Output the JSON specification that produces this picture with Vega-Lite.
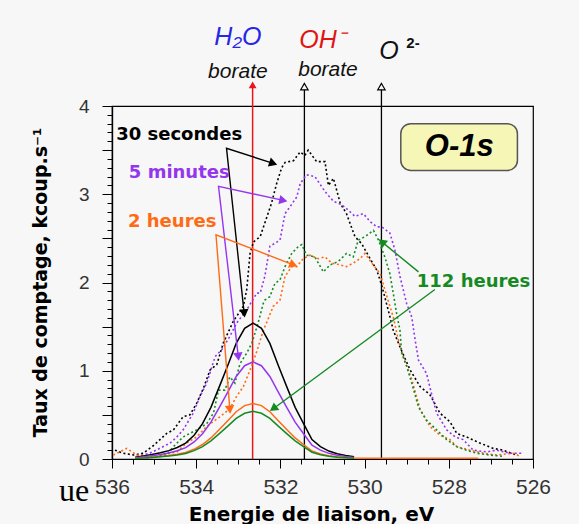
{
  "$schema": "https://vega.github.io/schema/vega-lite/v6.json",
  "width": 421,
  "height": 353,
  "autosize": {"type": "none"},
  "padding": {"left": 112, "top": 106, "right": 46, "bottom": 65},
  "background": "#f7f7f7",
  "config": {
    "view": {"stroke": "#000", "strokeWidth": 1.2},
    "axis": {"grid": false, "domainColor": "#000", "tickColor": "#000", "domainWidth": 1.2, "tickWidth": 1}
  },
  "datasets": {
    "raw": [
      {"series":"30 secondes","eV":535.93,"rate":0.10},{"series":"30 secondes","eV":535.73,"rate":0.065},{"series":"30 secondes","eV":535.49,"rate":0.045},{"series":"30 secondes","eV":535.26,"rate":0.065},{"series":"30 secondes","eV":535.02,"rate":0.15},{"series":"30 secondes","eV":534.86,"rate":0.22},{"series":"30 secondes","eV":534.70,"rate":0.29},{"series":"30 secondes","eV":534.54,"rate":0.33},{"series":"30 secondes","eV":534.31,"rate":0.48},{"series":"30 secondes","eV":534.15,"rate":0.50},{"series":"30 secondes","eV":533.99,"rate":0.63},{"series":"30 secondes","eV":533.83,"rate":0.80},{"series":"30 secondes","eV":533.67,"rate":1.01},{"series":"30 secondes","eV":533.51,"rate":1.07},{"series":"30 secondes","eV":533.36,"rate":1.31},{"series":"30 secondes","eV":533.12,"rate":1.56},{"series":"30 secondes","eV":532.88,"rate":1.73},{"series":"30 secondes","eV":532.80,"rate":1.92},{"series":"30 secondes","eV":532.72,"rate":2.33},{"series":"30 secondes","eV":532.64,"rate":2.46},{"series":"30 secondes","eV":532.48,"rate":2.52},{"series":"30 secondes","eV":532.33,"rate":2.73},{"series":"30 secondes","eV":532.21,"rate":2.90},{"series":"30 secondes","eV":532.09,"rate":3.12},{"series":"30 secondes","eV":531.97,"rate":3.30},{"series":"30 secondes","eV":531.89,"rate":3.36},{"series":"30 secondes","eV":531.69,"rate":3.38},{"series":"30 secondes","eV":531.53,"rate":3.48},{"series":"30 secondes","eV":531.42,"rate":3.44},{"series":"30 secondes","eV":531.34,"rate":3.50},{"series":"30 secondes","eV":531.14,"rate":3.37},{"series":"30 secondes","eV":530.94,"rate":3.37},{"series":"30 secondes","eV":530.86,"rate":3.10},{"series":"30 secondes","eV":530.74,"rate":3.18},{"series":"30 secondes","eV":530.58,"rate":2.90},{"series":"30 secondes","eV":530.43,"rate":2.78},{"series":"30 secondes","eV":530.23,"rate":2.52},{"series":"30 secondes","eV":530.07,"rate":2.44},{"series":"30 secondes","eV":529.87,"rate":2.27},{"series":"30 secondes","eV":529.71,"rate":2.14},{"series":"30 secondes","eV":529.59,"rate":1.96},{"series":"30 secondes","eV":529.44,"rate":1.69},{"series":"30 secondes","eV":529.32,"rate":1.46},{"series":"30 secondes","eV":529.16,"rate":1.27},{"series":"30 secondes","eV":528.92,"rate":1.01},{"series":"30 secondes","eV":528.68,"rate":0.82},{"series":"30 secondes","eV":528.45,"rate":0.73},{"series":"30 secondes","eV":528.21,"rate":0.52},{"series":"30 secondes","eV":527.97,"rate":0.42},{"series":"30 secondes","eV":527.81,"rate":0.29},{"series":"30 secondes","eV":527.58,"rate":0.25},{"series":"30 secondes","eV":527.26,"rate":0.18},{"series":"30 secondes","eV":526.94,"rate":0.12},{"series":"30 secondes","eV":526.71,"rate":0.10},{"series":"30 secondes","eV":526.39,"rate":0.045},
      {"series":"5 minutes","eV":535.41,"rate":0.03},{"series":"5 minutes","eV":535.10,"rate":0.065},{"series":"5 minutes","eV":534.62,"rate":0.18},{"series":"5 minutes","eV":534.46,"rate":0.25},{"series":"5 minutes","eV":534.31,"rate":0.33},{"series":"5 minutes","eV":534.07,"rate":0.52},{"series":"5 minutes","eV":533.91,"rate":0.71},{"series":"5 minutes","eV":533.75,"rate":0.86},{"series":"5 minutes","eV":533.55,"rate":1.16},{"series":"5 minutes","eV":533.39,"rate":1.24},{"series":"5 minutes","eV":533.20,"rate":1.39},{"series":"5 minutes","eV":533.04,"rate":1.54},{"series":"5 minutes","eV":532.80,"rate":1.69},{"series":"5 minutes","eV":532.56,"rate":1.88},{"series":"5 minutes","eV":532.48,"rate":1.88},{"series":"5 minutes","eV":532.37,"rate":2.07},{"series":"5 minutes","eV":532.25,"rate":2.41},{"series":"5 minutes","eV":532.01,"rate":2.48},{"series":"5 minutes","eV":531.89,"rate":2.78},{"series":"5 minutes","eV":531.77,"rate":2.86},{"series":"5 minutes","eV":531.61,"rate":2.97},{"series":"5 minutes","eV":531.53,"rate":3.12},{"series":"5 minutes","eV":531.38,"rate":3.22},{"series":"5 minutes","eV":531.18,"rate":3.20},{"series":"5 minutes","eV":530.94,"rate":3.03},{"series":"5 minutes","eV":530.74,"rate":2.92},{"series":"5 minutes","eV":530.54,"rate":2.88},{"series":"5 minutes","eV":530.39,"rate":2.82},{"series":"5 minutes","eV":530.23,"rate":2.75},{"series":"5 minutes","eV":530.03,"rate":2.78},{"series":"5 minutes","eV":529.87,"rate":2.69},{"series":"5 minutes","eV":529.71,"rate":2.63},{"series":"5 minutes","eV":529.59,"rate":2.63},{"series":"5 minutes","eV":529.40,"rate":2.56},{"series":"5 minutes","eV":529.28,"rate":2.37},{"series":"5 minutes","eV":529.16,"rate":2.07},{"series":"5 minutes","eV":529.00,"rate":1.76},{"series":"5 minutes","eV":528.88,"rate":1.61},{"series":"5 minutes","eV":528.80,"rate":1.35},{"series":"5 minutes","eV":528.72,"rate":1.12},{"series":"5 minutes","eV":528.53,"rate":0.97},{"series":"5 minutes","eV":528.41,"rate":0.74},{"series":"5 minutes","eV":528.29,"rate":0.52},{"series":"5 minutes","eV":528.05,"rate":0.33},{"series":"5 minutes","eV":527.85,"rate":0.25},{"series":"5 minutes","eV":527.66,"rate":0.22},{"series":"5 minutes","eV":527.42,"rate":0.10},{"series":"5 minutes","eV":527.10,"rate":0.08},{"series":"5 minutes","eV":526.86,"rate":0.10},{"series":"5 minutes","eV":526.55,"rate":0.065},{"series":"5 minutes","eV":526.23,"rate":0.065},
      {"series":"2 heures","eV":535.97,"rate":0.045},{"series":"2 heures","eV":535.65,"rate":0.12},{"series":"2 heures","eV":535.41,"rate":0.045},{"series":"2 heures","eV":535.02,"rate":0.03},{"series":"2 heures","eV":534.46,"rate":0.08},{"series":"2 heures","eV":534.23,"rate":0.18},{"series":"2 heures","eV":533.99,"rate":0.25},{"series":"2 heures","eV":533.75,"rate":0.37},{"series":"2 heures","eV":533.43,"rate":0.48},{"series":"2 heures","eV":533.20,"rate":0.57},{"series":"2 heures","eV":533.04,"rate":0.71},{"series":"2 heures","eV":532.88,"rate":0.82},{"series":"2 heures","eV":532.72,"rate":1.01},{"series":"2 heures","eV":532.56,"rate":1.22},{"series":"2 heures","eV":532.41,"rate":1.45},{"series":"2 heures","eV":532.17,"rate":1.73},{"series":"2 heures","eV":532.01,"rate":1.80},{"series":"2 heures","eV":531.89,"rate":2.07},{"series":"2 heures","eV":531.73,"rate":2.18},{"series":"2 heures","eV":531.61,"rate":2.18},{"series":"2 heures","eV":531.46,"rate":2.27},{"series":"2 heures","eV":531.30,"rate":2.31},{"series":"2 heures","eV":531.10,"rate":2.27},{"series":"2 heures","eV":530.94,"rate":2.29},{"series":"2 heures","eV":530.78,"rate":2.22},{"series":"2 heures","eV":530.58,"rate":2.20},{"series":"2 heures","eV":530.43,"rate":2.18},{"series":"2 heures","eV":530.27,"rate":2.22},{"series":"2 heures","eV":530.11,"rate":2.27},{"series":"2 heures","eV":529.99,"rate":2.33},{"series":"2 heures","eV":529.83,"rate":2.22},{"series":"2 heures","eV":529.63,"rate":2.10},{"series":"2 heures","eV":529.47,"rate":1.84},{"series":"2 heures","eV":529.32,"rate":1.61},{"series":"2 heures","eV":529.20,"rate":1.35},{"series":"2 heures","eV":529.08,"rate":1.16},{"series":"2 heures","eV":528.88,"rate":0.90},{"series":"2 heures","eV":528.68,"rate":0.56},{"series":"2 heures","eV":528.45,"rate":0.37},{"series":"2 heures","eV":528.21,"rate":0.27},{"series":"2 heures","eV":527.97,"rate":0.22},{"series":"2 heures","eV":527.81,"rate":0.14},{"series":"2 heures","eV":527.50,"rate":0.10},{"series":"2 heures","eV":527.18,"rate":0.065},{"series":"2 heures","eV":526.86,"rate":0.045},{"series":"2 heures","eV":526.47,"rate":0.065},{"series":"2 heures","eV":526.30,"rate":0.03},
      {"series":"112 heures","eV":535.18,"rate":0.01},{"series":"112 heures","eV":534.70,"rate":0.045},{"series":"112 heures","eV":534.54,"rate":0.14},{"series":"112 heures","eV":534.31,"rate":0.25},{"series":"112 heures","eV":533.99,"rate":0.33},{"series":"112 heures","eV":533.75,"rate":0.40},{"series":"112 heures","eV":533.59,"rate":0.52},{"series":"112 heures","eV":533.47,"rate":0.78},{"series":"112 heures","eV":533.32,"rate":0.78},{"series":"112 heures","eV":533.20,"rate":0.93},{"series":"112 heures","eV":533.08,"rate":0.86},{"series":"112 heures","eV":532.96,"rate":1.08},{"series":"112 heures","eV":532.80,"rate":1.20},{"series":"112 heures","eV":532.68,"rate":1.31},{"series":"112 heures","eV":532.53,"rate":1.54},{"series":"112 heures","eV":532.41,"rate":1.76},{"series":"112 heures","eV":532.37,"rate":1.80},{"series":"112 heures","eV":532.25,"rate":1.84},{"series":"112 heures","eV":532.13,"rate":1.99},{"series":"112 heures","eV":532.01,"rate":2.03},{"series":"112 heures","eV":531.89,"rate":2.18},{"series":"112 heures","eV":531.73,"rate":2.33},{"series":"112 heures","eV":531.57,"rate":2.41},{"series":"112 heures","eV":531.49,"rate":2.43},{"series":"112 heures","eV":531.38,"rate":2.31},{"series":"112 heures","eV":531.18,"rate":2.29},{"series":"112 heures","eV":530.98,"rate":2.12},{"series":"112 heures","eV":530.82,"rate":2.20},{"series":"112 heures","eV":530.62,"rate":2.24},{"series":"112 heures","eV":530.43,"rate":2.33},{"series":"112 heures","eV":530.27,"rate":2.29},{"series":"112 heures","eV":530.15,"rate":2.48},{"series":"112 heures","eV":529.99,"rate":2.52},{"series":"112 heures","eV":529.79,"rate":2.59},{"series":"112 heures","eV":529.67,"rate":2.48},{"series":"112 heures","eV":529.52,"rate":2.29},{"series":"112 heures","eV":529.40,"rate":2.10},{"series":"112 heures","eV":529.32,"rate":1.88},{"series":"112 heures","eV":529.24,"rate":1.65},{"series":"112 heures","eV":529.16,"rate":1.46},{"series":"112 heures","eV":529.12,"rate":1.20},{"series":"112 heures","eV":529.00,"rate":1.05},{"series":"112 heures","eV":528.88,"rate":0.86},{"series":"112 heures","eV":528.72,"rate":0.59},{"series":"112 heures","eV":528.53,"rate":0.44},{"series":"112 heures","eV":528.29,"rate":0.33},{"series":"112 heures","eV":528.05,"rate":0.22},{"series":"112 heures","eV":527.81,"rate":0.14},{"series":"112 heures","eV":527.58,"rate":0.10},{"series":"112 heures","eV":527.34,"rate":0.065},{"series":"112 heures","eV":527.02,"rate":0.045},{"series":"112 heures","eV":526.71,"rate":0.03}
    ],
    "fit": [
      {"series":"30 secondes","eV":535.45,"rate":0.02},{"series":"30 secondes","eV":535.25,"rate":0.035},{"series":"30 secondes","eV":535.05,"rate":0.05},{"series":"30 secondes","eV":534.85,"rate":0.07},{"series":"30 secondes","eV":534.65,"rate":0.095},{"series":"30 secondes","eV":534.45,"rate":0.13},{"series":"30 secondes","eV":534.25,"rate":0.18},{"series":"30 secondes","eV":534.05,"rate":0.27},{"series":"30 secondes","eV":533.85,"rate":0.40},{"series":"30 secondes","eV":533.65,"rate":0.585},{"series":"30 secondes","eV":533.45,"rate":0.82},{"series":"30 secondes","eV":533.25,"rate":1.06},{"series":"30 secondes","eV":533.05,"rate":1.31},{"series":"30 secondes","eV":532.85,"rate":1.48},{"series":"30 secondes","eV":532.65,"rate":1.54},{"series":"30 secondes","eV":532.45,"rate":1.48},{"series":"30 secondes","eV":532.25,"rate":1.31},{"series":"30 secondes","eV":532.05,"rate":1.06},{"series":"30 secondes","eV":531.85,"rate":0.82},{"series":"30 secondes","eV":531.65,"rate":0.585},{"series":"30 secondes","eV":531.45,"rate":0.40},{"series":"30 secondes","eV":531.25,"rate":0.22},{"series":"30 secondes","eV":531.05,"rate":0.14},{"series":"30 secondes","eV":530.85,"rate":0.09},{"series":"30 secondes","eV":530.65,"rate":0.06},{"series":"30 secondes","eV":530.45,"rate":0.04},{"series":"30 secondes","eV":530.25,"rate":0.025},
      {"series":"5 minutes","eV":535.45,"rate":0.014},{"series":"5 minutes","eV":535.25,"rate":0.025},{"series":"5 minutes","eV":535.05,"rate":0.036},{"series":"5 minutes","eV":534.85,"rate":0.05},{"series":"5 minutes","eV":534.65,"rate":0.068},{"series":"5 minutes","eV":534.45,"rate":0.093},{"series":"5 minutes","eV":534.25,"rate":0.129},{"series":"5 minutes","eV":534.05,"rate":0.193},{"series":"5 minutes","eV":533.85,"rate":0.286},{"series":"5 minutes","eV":533.65,"rate":0.418},{"series":"5 minutes","eV":533.45,"rate":0.585},{"series":"5 minutes","eV":533.25,"rate":0.757},{"series":"5 minutes","eV":533.05,"rate":0.935},{"series":"5 minutes","eV":532.85,"rate":1.057},{"series":"5 minutes","eV":532.65,"rate":1.10},{"series":"5 minutes","eV":532.45,"rate":1.057},{"series":"5 minutes","eV":532.25,"rate":0.935},{"series":"5 minutes","eV":532.05,"rate":0.757},{"series":"5 minutes","eV":531.85,"rate":0.585},{"series":"5 minutes","eV":531.65,"rate":0.418},{"series":"5 minutes","eV":531.45,"rate":0.286},{"series":"5 minutes","eV":531.25,"rate":0.157},{"series":"5 minutes","eV":531.05,"rate":0.10},{"series":"5 minutes","eV":530.85,"rate":0.064},{"series":"5 minutes","eV":530.65,"rate":0.043},{"series":"5 minutes","eV":530.45,"rate":0.029},{"series":"5 minutes","eV":530.25,"rate":0.018},
      {"series":"2 heures","eV":535.45,"rate":0.008},{"series":"2 heures","eV":535.25,"rate":0.014},{"series":"2 heures","eV":535.05,"rate":0.02},{"series":"2 heures","eV":534.85,"rate":0.029},{"series":"2 heures","eV":534.65,"rate":0.039},{"series":"2 heures","eV":534.45,"rate":0.053},{"series":"2 heures","eV":534.25,"rate":0.074},{"series":"2 heures","eV":534.05,"rate":0.11},{"series":"2 heures","eV":533.85,"rate":0.164},{"series":"2 heures","eV":533.65,"rate":0.239},{"series":"2 heures","eV":533.45,"rate":0.335},{"series":"2 heures","eV":533.25,"rate":0.434},{"series":"2 heures","eV":533.05,"rate":0.536},{"series":"2 heures","eV":532.85,"rate":0.605},{"series":"2 heures","eV":532.65,"rate":0.63},{"series":"2 heures","eV":532.45,"rate":0.605},{"series":"2 heures","eV":532.25,"rate":0.536},{"series":"2 heures","eV":532.05,"rate":0.434},{"series":"2 heures","eV":531.85,"rate":0.335},{"series":"2 heures","eV":531.65,"rate":0.239},{"series":"2 heures","eV":531.45,"rate":0.164},{"series":"2 heures","eV":531.25,"rate":0.09},{"series":"2 heures","eV":531.05,"rate":0.057},{"series":"2 heures","eV":530.85,"rate":0.037},{"series":"2 heures","eV":530.65,"rate":0.025},{"series":"2 heures","eV":530.45,"rate":0.016},{"series":"2 heures","eV":530.25,"rate":0.01},{"series":"2 heures","eV":530.05,"rate":0.008},{"series":"2 heures","eV":527.30,"rate":0.008},
      {"series":"112 heures","eV":535.45,"rate":0.007},{"series":"112 heures","eV":535.25,"rate":0.012},{"series":"112 heures","eV":535.05,"rate":0.018},{"series":"112 heures","eV":534.85,"rate":0.025},{"series":"112 heures","eV":534.65,"rate":0.033},{"series":"112 heures","eV":534.45,"rate":0.046},{"series":"112 heures","eV":534.25,"rate":0.063},{"series":"112 heures","eV":534.05,"rate":0.095},{"series":"112 heures","eV":533.85,"rate":0.14},{"series":"112 heures","eV":533.65,"rate":0.205},{"series":"112 heures","eV":533.45,"rate":0.288},{"series":"112 heures","eV":533.25,"rate":0.372},{"series":"112 heures","eV":533.05,"rate":0.46},{"series":"112 heures","eV":532.85,"rate":0.518},{"series":"112 heures","eV":532.65,"rate":0.54},{"series":"112 heures","eV":532.45,"rate":0.518},{"series":"112 heures","eV":532.25,"rate":0.46},{"series":"112 heures","eV":532.05,"rate":0.372},{"series":"112 heures","eV":531.85,"rate":0.288},{"series":"112 heures","eV":531.65,"rate":0.205},{"series":"112 heures","eV":531.45,"rate":0.14},{"series":"112 heures","eV":531.25,"rate":0.077},{"series":"112 heures","eV":531.05,"rate":0.049},{"series":"112 heures","eV":530.85,"rate":0.032},{"series":"112 heures","eV":530.65,"rate":0.021},{"series":"112 heures","eV":530.45,"rate":0.014},{"series":"112 heures","eV":530.25,"rate":0.009}
    ],
    "arrows": [
      {"series":"30 secondes","path":"b","step":1,"eV":532.17,"rate":3.35},{"series":"30 secondes","path":"b","step":2,"eV":533.28,"rate":3.52},{"series":"30 secondes","path":"b","step":3,"eV":532.86,"rate":1.65},
      {"series":"5 minutes","path":"p","step":1,"eV":531.93,"rate":2.93},{"series":"5 minutes","path":"p","step":2,"eV":533.47,"rate":3.09},{"series":"5 minutes","path":"p","step":3,"eV":533.0,"rate":1.16},
      {"series":"2 heures","path":"o","step":1,"eV":531.69,"rate":2.20},{"series":"2 heures","path":"o","step":2,"eV":533.53,"rate":2.54},{"series":"2 heures","path":"o","step":3,"eV":533.20,"rate":0.56},
      {"series":"112 heures","path":"g1","step":1,"eV":528.72,"rate":2.12},{"series":"112 heures","path":"g1","step":2,"eV":529.59,"rate":2.46},
      {"series":"112 heures","path":"g2","step":1,"eV":528.33,"rate":1.92},{"series":"112 heures","path":"g2","step":2,"eV":532.17,"rate":0.57}
    ],
    "heads": [
      {"series":"30 secondes","eV":532.17,"rate":3.35,"angle":108},{"series":"30 secondes","eV":532.86,"rate":1.65,"angle":174},
      {"series":"5 minutes","eV":531.93,"rate":2.93,"angle":102},{"series":"5 minutes","eV":533.0,"rate":1.16,"angle":173},
      {"series":"2 heures","eV":531.69,"rate":2.20,"angle":111},{"series":"2 heures","eV":533.20,"rate":0.56,"angle":175},
      {"series":"112 heures","eV":529.59,"rate":2.46,"angle":309},{"series":"112 heures","eV":532.17,"rate":0.57,"angle":234}
    ],
    "labels": [
      {"series":"30 secondes","eV":535.90,"rate":3.67},
      {"series":"5 minutes","eV":535.60,"rate":3.24},
      {"series":"2 heures","eV":535.62,"rate":2.69},
      {"series":"112 heures","eV":528.76,"rate":2.01}
    ]
  },
  "resolve": {"axis": {"x": "independent", "y": "independent"}},
  "layer": [
    {
      "data": {"values": [{"eV": 529.14, "eV2": 526.37, "rate": 3.27, "rate2": 3.80}]},
      "mark": {"type": "rect", "fill": "#f6f6b6", "stroke": "#555", "strokeWidth": 1.5, "cornerRadius": 10},
      "encoding": {
        "x": {"field": "eV", "type": "quantitative",
          "scale": {"domain": [526, 536], "reverse": true, "nice": false, "zero": false},
          "axis": {"orient": "bottom", "values": [535.5,535,534.5,533.5,533,532.5,531.5,531,530.5,529.5,529,528.5,527.5,527,526.5], "labels": false, "title": null, "tickSize": 5}
        },
        "x2": {"field": "eV2"},
        "y": {"field": "rate", "type": "quantitative",
          "scale": {"domain": [0, 4], "nice": false, "zero": false},
          "axis": {"orient": "left", "values": [0.1,0.2,0.3,0.4,0.6,0.7,0.8,0.9,1.1,1.2,1.3,1.4,1.6,1.7,1.8,1.9,2.1,2.2,2.3,2.4,2.6,2.7,2.8,2.9,3.1,3.2,3.3,3.4,3.6,3.7,3.8,3.9], "labels": false, "title": null, "tickSize": 5}
        },
        "y2": {"field": "rate2"}
      }
    },
    {
      "layer": [
        {
          "data": {"values": [{"eV": 527.75, "rate": 3.54, "label": "O-1s"}]},
          "mark": {"type": "text", "font": "Liberation Sans", "fontSize": 31, "fontStyle": "italic", "fontWeight": "bold", "align": "center", "baseline": "middle", "color": "#000"},
          "encoding": {
            "x": {"field": "eV", "type": "quantitative",
              "axis": {
                "orient": "bottom",
                "values": [536, 534, 532, 530, 528, 526],
                "format": "d",
                "tickSize": 9,
                "labelFont": "Liberation Sans", "labelFontSize": 21, "labelColor": "#333", "labelPadding": 8,
                "labelOverlap": false, "labelFlush": false,
                "title": "Energie de liaison, eV", "titleFont": "DejaVu Sans", "titleFontSize": 20, "titleFontWeight": "bold", "titleColor": "#000",
                "titleX": 199, "titleY": 55, "titleBaseline": "middle", "titleAlign": "center"
              }
            },
            "y": {"field": "rate", "type": "quantitative",
              "axis": {
                "orient": "left",
                "values": [0, 0.5, 1, 1.5, 2, 2.5, 3, 3.5, 4],
                "format": ".0f",
                "labelExpr": "datum.value % 1 === 0 ? datum.label : ''",
                "tickSize": 10,
                "labelFont": "Liberation Sans", "labelFontSize": 19, "labelColor": "#333", "labelPadding": 13,
                "labelOverlap": false, "labelFlush": false,
                "title": "Taux de comptage, kcoup.s⁻¹", "titleFont": "DejaVu Sans", "titleFontSize": 19, "titleFontWeight": "bold", "titleColor": "#000",
                "titleX": -72, "titleY": 176, "titleAngle": 270, "titleBaseline": "middle", "titleAlign": "center"
              }
            },
            "text": {"field": "label"}
          }
        },
        {
          "data": {"values": [{"eV": 532.66}]},
          "mark": {"type": "rule", "color": "#e8161b", "strokeWidth": 1.5},
          "encoding": {"x": {"field": "eV", "type": "quantitative"}, "y": {"datum": 0}, "y2": {"datum": 4.22}}
        },
        {
          "data": {"values": [{"eV": 531.43}, {"eV": 529.6}]},
          "mark": {"type": "rule", "color": "#000", "strokeWidth": 1.3},
          "encoding": {"x": {"field": "eV", "type": "quantitative"}, "y": {"datum": 0}, "y2": {"datum": 4.2}}
        },
        {
          "data": {"name": "raw"},
          "mark": {"type": "line", "strokeWidth": 1.6, "strokeDash": [2, 2.5]},
          "encoding": {
            "x": {"field": "eV", "type": "quantitative"},
            "y": {"field": "rate", "type": "quantitative"},
            "color": {"field": "series", "type": "nominal",
              "scale": {"domain": ["30 secondes", "5 minutes", "2 heures", "112 heures"], "range": ["#000000", "#9436ee", "#ff6a14", "#158a22"]},
              "legend": null}
          }
        },
        {
          "data": {"name": "fit"},
          "mark": {"type": "line", "strokeWidth": 1.5},
          "encoding": {
            "x": {"field": "eV", "type": "quantitative"},
            "y": {"field": "rate", "type": "quantitative"},
            "color": {"field": "series", "type": "nominal"}
          }
        },
        {
          "data": {"name": "arrows"},
          "mark": {"type": "line", "strokeWidth": 1.4},
          "encoding": {
            "x": {"field": "eV", "type": "quantitative"},
            "y": {"field": "rate", "type": "quantitative"},
            "detail": {"field": "path"},
            "order": {"field": "step", "type": "quantitative"},
            "color": {"field": "series", "type": "nominal"}
          }
        },
        {
          "data": {"name": "heads"},
          "mark": {"type": "point", "shape": "triangle-up", "filled": true, "size": 90, "opacity": 1},
          "encoding": {
            "x": {"field": "eV", "type": "quantitative"},
            "y": {"field": "rate", "type": "quantitative"},
            "angle": {"field": "angle", "type": "quantitative", "scale": null},
            "color": {"field": "series", "type": "nominal"}
          }
        },
        {
          "data": {"values": [{"eV": 532.66, "rate": 4.24}]},
          "mark": {"type": "point", "shape": "triangle-up", "filled": true, "size": 60, "color": "#e8161b", "opacity": 1},
          "encoding": {"x": {"field": "eV", "type": "quantitative"}, "y": {"field": "rate", "type": "quantitative"}}
        },
        {
          "data": {"values": [{"eV": 531.43, "rate": 4.22}, {"eV": 529.6, "rate": 4.22}]},
          "mark": {"type": "point", "shape": "triangle-up", "filled": false, "size": 55, "stroke": "#000", "fill": "#f7f7f7", "fillOpacity": 1, "strokeWidth": 1.2, "opacity": 1},
          "encoding": {"x": {"field": "eV", "type": "quantitative"}, "y": {"field": "rate", "type": "quantitative"}}
        },
        {
          "data": {"name": "labels"},
          "mark": {"type": "text", "font": "DejaVu Sans", "fontSize": 18, "fontWeight": "bold", "align": "left", "baseline": "middle"},
          "encoding": {
            "x": {"field": "eV", "type": "quantitative"},
            "y": {"field": "rate", "type": "quantitative"},
            "text": {"field": "series"},
            "color": {"field": "series", "type": "nominal"}
          }
        },
        {
          "data": {"values": [{"eV": 533.01, "rate": 4.78, "label": "H₂O"}]},
          "mark": {"type": "text", "font": "Liberation Sans", "fontSize": 25, "fontStyle": "italic", "align": "center", "baseline": "middle", "color": "#2626e6"},
          "encoding": {"x": {"field": "eV", "type": "quantitative"}, "y": {"field": "rate", "type": "quantitative"}, "text": {"field": "label"}}
        },
        {
          "data": {"values": [{"eV": 531.01, "rate": 4.75, "label": "OH⁻"}]},
          "mark": {"type": "text", "font": "Liberation Sans", "fontSize": 25, "fontStyle": "italic", "align": "center", "baseline": "middle", "color": "#e01414"},
          "encoding": {"x": {"field": "eV", "type": "quantitative"}, "y": {"field": "rate", "type": "quantitative"}, "text": {"field": "label"}}
        },
        {
          "data": {"values": [{"eV": 533.01, "rate": 4.39, "label": "borate"}, {"eV": 530.87, "rate": 4.41, "label": "borate"}]},
          "mark": {"type": "text", "font": "Liberation Sans", "fontSize": 21, "fontStyle": "italic", "align": "center", "baseline": "middle", "color": "#111"},
          "encoding": {"x": {"field": "eV", "type": "quantitative"}, "y": {"field": "rate", "type": "quantitative"}, "text": {"field": "label"}}
        },
        {
          "data": {"values": [{"eV": 529.42, "rate": 4.62, "label": "O"}]},
          "mark": {"type": "text", "font": "Liberation Sans", "fontSize": 25, "fontStyle": "italic", "align": "center", "baseline": "middle", "color": "#111"},
          "encoding": {"x": {"field": "eV", "type": "quantitative"}, "y": {"field": "rate", "type": "quantitative"}, "text": {"field": "label"}}
        },
        {
          "data": {"values": [{"eV": 528.85, "rate": 4.71, "label": "2-"}]},
          "mark": {"type": "text", "font": "Liberation Sans", "fontSize": 15, "fontWeight": "bold", "align": "center", "baseline": "middle", "color": "#111"},
          "encoding": {"x": {"field": "eV", "type": "quantitative"}, "y": {"field": "rate", "type": "quantitative"}, "text": {"field": "label"}}
        },
        {
          "data": {"values": [{"eV": 536.9, "rate": -0.36, "label": "ue"}]},
          "mark": {"type": "text", "font": "Liberation Serif", "fontSize": 32, "align": "center", "baseline": "middle", "color": "#000"},
          "encoding": {"x": {"field": "eV", "type": "quantitative"}, "y": {"field": "rate", "type": "quantitative"}, "text": {"field": "label"}}
        }
      ]
    }
  ]
}
